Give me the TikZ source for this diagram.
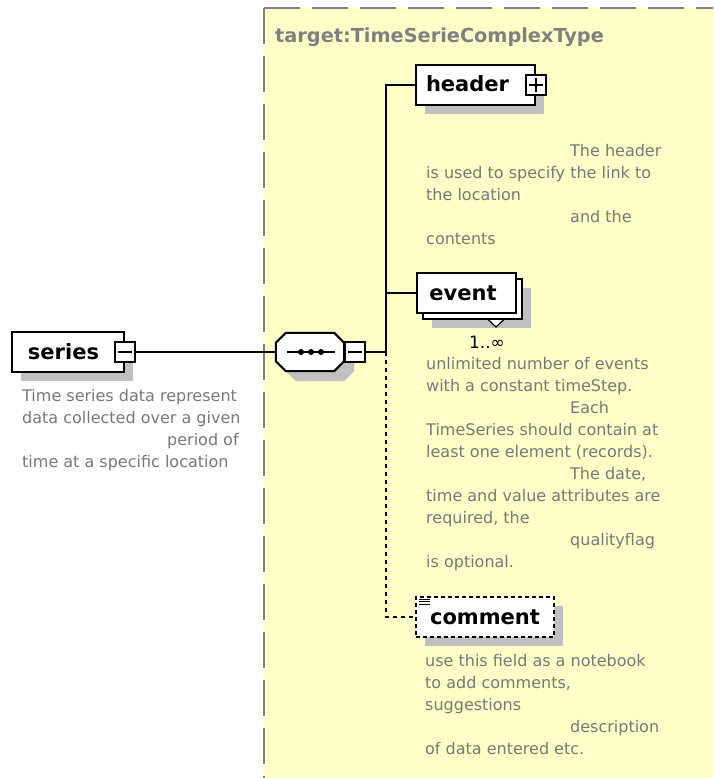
\documentclass[tikz,border=0pt]{standalone}
\usepackage{fontspec}
\newfontfamily\dv{DejaVu Sans}
\usetikzlibrary{calc,shadows}
\definecolor{bgyellow}{RGB}{255,255,200}
\definecolor{framegray}{RGB}{128,128,128}
\definecolor{descgray}{RGB}{120,120,120}
\definecolor{shadowgray}{RGB}{192,192,192}
% fixed-height strut so every description line takes exactly 22pt
\newcommand\dstrut{\vrule height 16pt depth 6pt width 0pt}

\begin{document}
\begin{tikzpicture}[x=1pt,y=-1pt,
  box/.style={draw=black, line width=2pt, fill=white, inner sep=0pt,
    minimum height=40pt, text height=14pt, text depth=0pt,
    font=\dv\bfseries\fontsize{21}{24}\selectfont},
  elem/.style={box, general shadow={fill=shadowgray, shadow xshift=9pt, shadow yshift=-9pt}},
  toggle/.style={draw=black, line width=1.5pt, fill=white, minimum width=20pt,
    minimum height=20pt, inner sep=0pt},
  desc/.style={anchor=north west, inner sep=0pt, align=left, text=descgray,
    font=\dv\fontsize{16}{22}\selectfont},
  link/.style={line width=2pt},
  optlink/.style={line width=2pt, dash pattern=on 4pt off 4pt}]

\useasboundingbox (0,0) rectangle (713,778);

% complex type area
\fill[bgyellow] (264,8) rectangle (713,778);
\draw[framegray, line width=2pt, dash pattern=on 36pt off 12pt] (264,8) -- (713,8);
\draw[framegray, line width=2pt, dash pattern=on 36pt off 12pt] (264,8) -- (264,778);
\node[anchor=base west, inner sep=0pt, text=framegray,
  font=\dv\bfseries\fontsize{19.3}{22}\selectfont] (title) at (275,43) {target:TimeSerieComplexType};

% root element
\node[elem, minimum width=112pt] (series) at (68,352) {series\kern9pt};
\node[toggle] (seriestg) at (series.east) {};
\draw[line width=1.5pt] ($(seriestg.west)+(4,0)$) -- ($(seriestg.east)+(-4,0)$);
\node[desc] (seriesdesc) at (22,385) {\dstrut Time series data represent\\
  \dstrut data collected over a given\\
  \dstrut\hspace*{145pt}period of\\
  \dstrut time at a specific location};

% sequence compositor
\node[draw=none, minimum width=68pt, minimum height=38pt, inner sep=0pt] (seq) at (310,352) {};
\fill[shadowgray, transform canvas={shift={(10pt,-10pt)}}]
  ($(seq.north west)+(0,10)$) -- ($(seq.north west)+(10,0)$) --
  ($(seq.north east)+(-10,0)$) -- ($(seq.north east)+(0,10)$) --
  ($(seq.south east)+(0,-10)$) -- ($(seq.south east)+(-10,0)$) --
  ($(seq.south west)+(10,0)$) -- ($(seq.south west)+(0,-10)$) -- cycle;
\draw[line width=2pt, fill=white]
  ($(seq.north west)+(0,10)$) -- ($(seq.north west)+(10,0)$) --
  ($(seq.north east)+(-10,0)$) -- ($(seq.north east)+(0,10)$) --
  ($(seq.south east)+(0,-10)$) -- ($(seq.south east)+(-10,0)$) --
  ($(seq.south west)+(10,0)$) -- ($(seq.south west)+(0,-10)$) -- cycle;
\draw[link] ($(seq.west)+(11,0)$) -- ($(seq.east)+(-9,0)$);
\foreach \dx in {-9,1,11}
  \fill ($(seq.center)+(\dx,0)$) circle (3pt);
\node[toggle] (seqtg) at ($(seq.east)+(11,0)$) {};
\draw[line width=1.5pt] ($(seqtg.west)+(4,0)$) -- ($(seqtg.east)+(-4,0)$);

% child elements
\node[elem, minimum width=119pt] (header) at (475.5,85) {header\kern16pt};
\node[toggle] (headertg) at (header.east) {};
\draw[line width=1.5pt] ($(headertg.west)+(4,0)$) -- ($(headertg.east)+(-4,0)$);
\draw[line width=1.5pt] ($(headertg.north)+(0,4)$) -- ($(headertg.south)+(0,-4)$);
\node[desc] (headerdesc) at (426,140) {\dstrut\hspace*{144pt}The header\\
  \dstrut is used to specify the link to\\
  \dstrut the location\\
  \dstrut\hspace*{144pt}and the\\
  \dstrut contents};

\node[elem, minimum width=99pt, text height=0pt] (eventback) at (472.5,299) {};
\node[box, minimum width=99pt] (event) at (466.5,293) {event\kern7pt};
\draw[line width=1.2pt, fill=white] ($(eventback.south)+(16,0)$) -- ($(eventback.south)+(23.5,7)$)
  -- ($(eventback.south)+(31,0)$);
\node[anchor=base, inner sep=0pt, font=\dv\fontsize{17}{19}\selectfont] (eventmult) at (487,348) {1..∞};
\node[desc] (eventdesc) at (426,353) {\dstrut unlimited number of events\\
  \dstrut with a constant timeStep.\\
  \dstrut\hspace*{144pt}Each\\
  \dstrut TimeSeries should contain at\\
  \dstrut least one element (records).\\
  \dstrut\hspace*{144pt}The date,\\
  \dstrut time and value attributes are\\
  \dstrut required, the\\
  \dstrut\hspace*{144pt}qualityflag\\
  \dstrut is optional.};

\node[elem, minimum width=138pt, dash pattern=on 4pt off 3pt] (comment) at (485,617) {comment};
\foreach \dy in {3,5.5,8}
  \draw[line width=0.9pt] ($(comment.north west)+(4,\dy)$) -- ($(comment.north west)+(15,\dy)$);
\node[desc] (commentdesc) at (425,650) {\dstrut use this field as a notebook\\
  \dstrut to add comments,\\
  \dstrut suggestions\\
  \dstrut\hspace*{145pt}description\\
  \dstrut of data entered etc.};

% connectors
\coordinate (bus) at (386,352);
\draw[link] (seriestg.east) -- (seq.west);
\draw[link] (seqtg.east) -- (bus);
\draw[link] (bus) |- (header.west);
\draw[link] (bus) |- (event.west);
\draw[optlink] (bus) |- (comment.west);
\end{tikzpicture}
\end{document}
